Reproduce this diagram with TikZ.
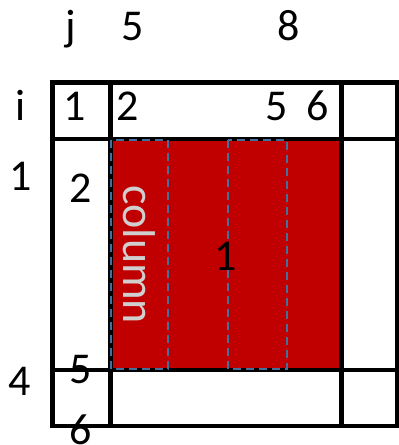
\documentclass[tikz,border=0pt]{standalone}
\usepackage{fontspec}
\setmainfont{Carlito}
\definecolor{blockred}{RGB}{192,0,0}
\definecolor{tileblue}{RGB}{65,113,156}
\definecolor{lightlbl}{RGB}{208,206,206}

\begin{document}
\begin{tikzpicture}[x=1pt,y=-1pt,
  gridline/.style={line width=4.5pt,line cap=rect},
  tile/.style={draw=tileblue,line width=2.2pt,dash pattern=on 8pt off 5pt},
  idx/.style={font=\fontsize{44}{52}\selectfont,inner sep=0pt,anchor=base}]
  \useasboundingbox (0,0) rectangle (399,445);
  % the block that is loaded
  \fill[blockred] (110,139) rectangle (341,370);
  % grid of the matrix
  \draw[gridline] (52.5,82.5) -- (397,82.5);
  \draw[gridline] (52.5,139) -- (397,139);
  \draw[gridline] (52.5,370) -- (397,370);
  \draw[gridline] (52.5,426) -- (397,426);
  \draw[gridline] (52.5,82.5) -- (52.5,426);
  \draw[gridline] (110.5,82.5) -- (110.5,426);
  \draw[gridline] (341.5,82.5) -- (341.5,426);
  \draw[gridline] (397,82.5) -- (397,426);
  % tiles of one column
  \draw[tile] (111,140) rectangle (168,369);
  \draw[tile] (228,140) rectangle (287,369);
  % indices
  \node[idx] (jlbl) at (71,40)   {j};
  \node[idx] (jfive) at (133,40) {5};
  \node[idx] (jeight) at (289,40) {8};
  \node[idx] (ilbl) at (21,120)  {i};
  \node[idx] (rone) at (75,120)  {1};
  \node[idx] (rtwo) at (128,120) {2};
  \node[idx] (rfive) at (277,120) {5};
  \node[idx] (rsix) at (318,120) {6};
  \node[idx] (ione) at (21,190)  {1};
  \node[idx] (ctwo) at (81,202)  {2};
  \node[idx] (blk) at (226,270)  {1};
  \node[idx] (ifour) at (20,395) {4};
  \node[idx] (cfive) at (81,383) {5};
  \node[idx] (csix) at (81,444)  {6};
  \node[font=\fontsize{46}{54}\selectfont,text=lightlbl,inner sep=0pt,
        anchor=base west,rotate=-90] (col) at (123,185) {column};
\end{tikzpicture}
\end{document}
